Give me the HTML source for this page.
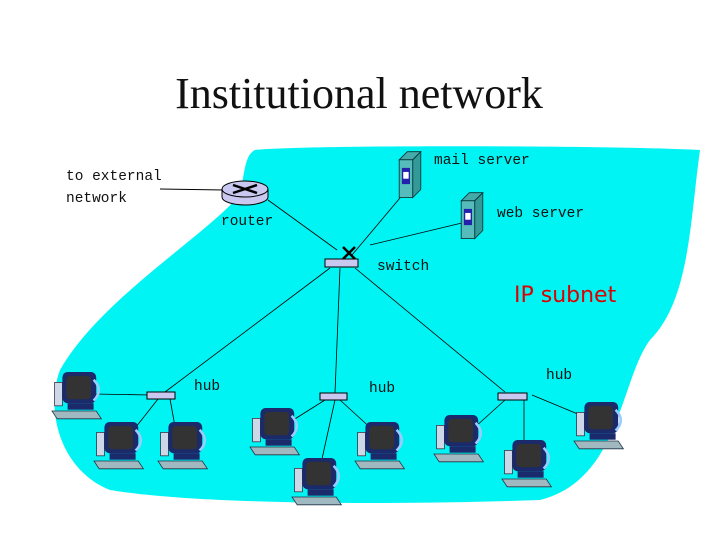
<!DOCTYPE html>
<html><head><meta charset="utf-8"><style>
html,body{margin:0;padding:0;background:#fff}
svg text{font-family:"Liberation Mono","DejaVu Sans Mono",monospace;font-size:14.5px;fill:#111}
</style></head><body>
<svg width="720" height="540" viewBox="0 0 720 540" xmlns="http://www.w3.org/2000/svg">
<defs>
<g id="pc">
  <rect x="-18" y="-12" width="6" height="18" fill="#ccd8e8" stroke="#334" stroke-width="0.6"/>
  <rect x="-12" y="-20" width="26" height="24" rx="4" fill="#1a2a6a"/>
  <rect x="-9" y="-17" width="19" height="18" rx="3" fill="#333"/>
  <path d="M12,-14 q8,8 0,16" stroke="#9cf" stroke-width="2" fill="none"/>
  <rect x="-8" y="4" width="20" height="5" fill="#1a2a6a"/>
  <polygon points="-20,10 14,10 18,16 -16,16" fill="#a0b8c0" stroke="#234" stroke-width="0.6"/>
</g>
<g id="srv">
  <polygon points="-8,-12 -2,-18 8,-18 2,-12" fill="#4aa" stroke="#033" stroke-width="0.6"/>
  <polygon points="2,-12 8,-18 8,10 2,16" fill="#399" stroke="#033" stroke-width="0.6"/>
  <rect x="-8" y="-12" width="10" height="28" fill="#5bb" stroke="#033" stroke-width="0.6"/>
  <rect x="-6" y="-6" width="6" height="12" fill="#22a"/>
  <rect x="-5" y="-3" width="4" height="5" fill="#fff"/>
</g>
</defs>
<path d="M255,150 C300,145 600,145 700,150 C690,220 690,300 650,340 C620,380 620,480 540,500 C400,505 200,505 110,490 C60,470 45,410 60,370 C100,300 200,240 240,195 C245,170 245,155 255,150 Z" fill="#00f4f4"/>
<text x="359" y="108" text-anchor="middle" style="font-family:'Liberation Serif',serif;font-size:44px">Institutional network</text>
<text x="66" y="180">to external</text>
<text x="66" y="202">network</text>
<line x1="160" y1="189" x2="224" y2="190" stroke="#000"/>
<g stroke="#000" stroke-width="0.8">
<line x1="268" y1="200" x2="337" y2="250"/>
<line x1="405" y1="192" x2="352" y2="255"/>
<line x1="466" y1="222" x2="370" y2="245"/>
<line x1="330" y1="268" x2="165" y2="392"/>
<line x1="340" y1="268" x2="335" y2="393"/>
<line x1="355" y1="268" x2="505" y2="392"/>
<line x1="95" y1="394" x2="150" y2="395"/>
<line x1="158" y1="399" x2="132" y2="432"/>
<line x1="170" y1="399" x2="176" y2="432"/>
<line x1="325" y1="400" x2="290" y2="422"/>
<line x1="340" y1="400" x2="375" y2="432"/>
<line x1="335" y1="400" x2="320" y2="468"/>
<line x1="505" y1="400" x2="474" y2="428"/>
<line x1="524" y1="400" x2="524" y2="450"/>
<line x1="532" y1="395" x2="585" y2="417"/>
</g>
<g>
<ellipse cx="245" cy="197" rx="23" ry="8" fill="#c8c8f0" stroke="#000"/>
<rect x="222" y="189" width="46" height="8" fill="#c8c8f0"/>
<line x1="222" y1="189" x2="222" y2="197" stroke="#000"/><line x1="268" y1="189" x2="268" y2="197" stroke="#000"/>
<ellipse cx="245" cy="189" rx="23" ry="8" fill="#c8c8f0" stroke="#000"/>
<path d="M233,185 L257,193 M233,193 L257,185" stroke="#000" stroke-width="2.5"/>
</g>
<text x="221" y="225">router</text>
<use href="#srv" transform="translate(410,176) scale(1.35)"/>
<text x="434" y="164">mail server</text>
<use href="#srv" transform="translate(472,217) scale(1.35)"/>
<text x="497" y="217">web server</text>
<path d="M343,247 L355,259 M355,247 L343,259" stroke="#000" stroke-width="2.5"/>
<rect x="325" y="259" width="33" height="8" fill="#c8c8f0" stroke="#000"/>
<text x="377" y="270">switch</text>
<text x="514" y="302" style="font-family:'DejaVu Sans',sans-serif;fill:#d00;font-size:22px">IP subnet</text>
<rect x="147" y="392" width="28" height="7" fill="#c8c8f0" stroke="#000"/>
<rect x="320" y="393" width="27" height="7" fill="#c8c8f0" stroke="#000"/>
<rect x="498" y="393" width="29" height="7" fill="#c8c8f0" stroke="#000"/>
<text x="194" y="390">hub</text>
<text x="369" y="392">hub</text>
<text x="546" y="379">hub</text>
<use href="#pc" transform="translate(78,398) scale(1.3)"/>
<use href="#pc" transform="translate(120,448) scale(1.3)"/>
<use href="#pc" transform="translate(184,448) scale(1.3)"/>
<use href="#pc" transform="translate(276,434) scale(1.3)"/>
<use href="#pc" transform="translate(381,448) scale(1.3)"/>
<use href="#pc" transform="translate(318,484) scale(1.3)"/>
<use href="#pc" transform="translate(460,441) scale(1.3)"/>
<use href="#pc" transform="translate(528,466) scale(1.3)"/>
<use href="#pc" transform="translate(600,428) scale(1.3)"/>
</svg>
</body></html>
